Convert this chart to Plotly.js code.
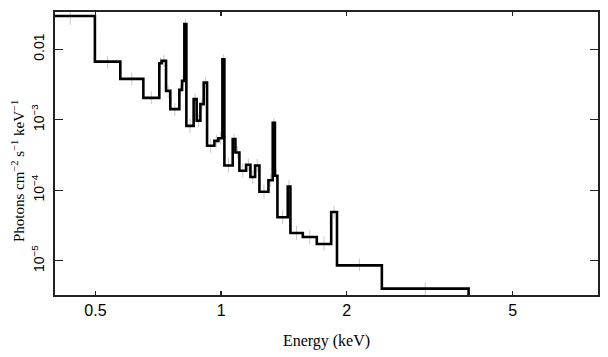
<!DOCTYPE html>
<html>
<head>
<meta charset="utf-8">
<script src="https://cdn.plot.ly/plotly-3.0.1.min.js"></script>
<style>html,body{margin:0;padding:0;background:#fff;}#chart{width:608px;height:357px;}</style>
</head>
<body>
<div id="chart"></div>
<script>
// Bin edges (keV) of the folded spectrum
const binEdges = [0.38, 0.4985, 0.5735, 0.6512, 0.7112, 0.7203, 0.7381, 0.7557, 0.7943, 0.8062,
  0.8166, 0.8257, 0.8595, 0.8739, 0.8921, 0.9085, 0.9256, 0.9637, 0.9852, 1.0072,
  1.0184, 1.0662, 1.0822, 1.1063, 1.1480, 1.1756, 1.2065, 1.2355, 1.2985, 1.3297,
  1.3459, 1.3647, 1.4443, 1.4660, 1.5697, 1.6955, 1.8357, 1.8954, 2.4277, 3.9175];
// Model level in each bin (photons cm^-2 s^-1 keV^-1)
const modelFlux = [0.02962, 0.006675, 0.003795, 0.002042, 0.006333, 0.006829, 0.002566, 0.001413, 0.002652, 0.003556,
  0.02283, 0.000819, 0.001957, 0.000965, 0.001663, 0.003363, 0.000427, 0.000502, 0.000545, 0.007218,
  0.0002245, 0.000531, 0.000343, 0.000189, 0.0002297, 0.0001538, 0.0002245, 0.0000953, 0.0001385, 0.000904,
  0.0001605, 0.00004146, 0.0001132, 0.00002476, 0.00002173, 0.0000173, 0.0000491, 0.0000086, 0.00000402];
// Measured points (grey crosses) and their half error in dex
const dataFlux = [0.0280, 0.00650, 0.00380, 0.00205, 0.00640, 0.00690, 0.00250, 0.00140, 0.00260, 0.00360,
  0.0230, 0.00082, 0.00196, 0.00097, 0.00166, 0.00335, 0.00043, 0.00050, 0.00055, 0.00720,
  0.000225, 0.00053, 0.000345, 0.00019, 0.00023, 0.000155, 0.000225, 0.000096, 0.000138, 0.00090,
  0.00016, 0.0000415, 0.000113, 0.0000248, 0.0000218, 0.0000174, 0.0000490, 0.0000087, 0.0000040];
const dataErrDex = [0.10, 0.09, 0.09, 0.09, 0.08, 0.08, 0.09, 0.09, 0.08, 0.08,
  0.07, 0.10, 0.08, 0.09, 0.08, 0.08, 0.10, 0.09, 0.09, 0.07,
  0.10, 0.08, 0.09, 0.10, 0.09, 0.10, 0.09, 0.10, 0.09, 0.07,
  0.09, 0.10, 0.09, 0.10, 0.10, 0.10, 0.09, 0.09, 0.09];
// Bottom floor used to close the last bin (falls below the plotted range)
const floorFlux = 1e-8;

const xTickVals = [0.5, 1, 2, 5];
const xTickText = ['0.5', '1', '2', '5'];
const xMinorVals = [0.4, 0.6, 0.7, 0.8, 0.9, 3, 4, 6, 7, 8];
const xMajorVals = [1];
const yTickVals = [1e-5, 1e-4, 1e-3, 1e-2];
const yTickText = ['10<sup>\u22125</sup>', '10<sup>\u22124</sup>', '10<sup>\u22123</sup>', '0.01'];
const yMinorVals = [];
[1e-6, 1e-5, 1e-4, 1e-3, 1e-2].forEach(d => { for (let k = 2; k <= 9; k++) yMinorVals.push(k * d); });

const xTitle = 'Energy (keV)';
const yTitle = 'Photons cm<sup>\u22122</sup> s<sup>\u22121</sup> keV<sup>\u22121</sup>';

// step line
const stepX = binEdges.slice();
const stepY = modelFlux.concat([floorFlux]);

const centers = [];
for (let i = 0; i < modelFlux.length; i++) centers.push(Math.sqrt(binEdges[i] * binEdges[i + 1]));
const errPlus = dataFlux.map((v, i) => v * Math.pow(10, dataErrDex[i]) - v);
const errMinus = dataFlux.map((v, i) => v - v / Math.pow(10, dataErrDex[i]));

const traces = [
  {
    x: centers, y: dataFlux, type: 'scatter', mode: 'markers',
    marker: {size: 1, color: 'rgba(0,0,0,0)'},
    error_y: {type: 'data', array: errPlus, arrayminus: errMinus, color: '#c8c8c8', thickness: 1, width: 0},
    hoverinfo: 'skip', showlegend: false
  },
  {
    x: stepX, y: stepY, type: 'scatter', mode: 'lines',
    line: {shape: 'hv', color: '#000', width: 2.6},
    showlegend: false
  }
];

const xr = [Math.log10(0.4), Math.log10(8)];
const yr = [-5.486, -1.472];
const serif = 'Liberation Serif, Times New Roman, serif';
const sans = 'Liberation Sans, Arial, sans-serif';

function tickOnlyAxis(base, vals, len) {
  return Object.assign({
    tickmode: 'array', tickvals: vals, showticklabels: false,
    ticks: 'inside', ticklen: len, tickwidth: 1.3, tickcolor: '#222',
    showline: false, mirror: 'ticks', showgrid: false, zeroline: false
  }, base);
}

const layout = {
  width: 608, height: 357,
  margin: {l: 55, r: 10, t: 12, b: 62},
  paper_bgcolor: '#fff', plot_bgcolor: '#fff',
  showlegend: false,
  xaxis: {
    type: 'log', range: xr, tickmode: 'array',
    tickvals: xTickVals, ticktext: xTickText,
    ticks: 'inside', ticklen: 4, tickwidth: 1.3, tickcolor: '#222',
    showline: true, linecolor: '#222', linewidth: 1.6, mirror: 'ticks',
    showgrid: false, zeroline: false, tickfont: {family: sans, size: 16, color: '#000'}, ticklabelstandoff: 0,
    title: {text: xTitle, font: {family: serif, size: 16, color: '#000'}, standoff: 17}
  },
  xaxis2: tickOnlyAxis({type: 'log', range: xr, overlaying: 'x', side: 'bottom', anchor: 'y'}, xMinorVals, 4),
  xaxis3: tickOnlyAxis({type: 'log', range: xr, overlaying: 'x', side: 'bottom', anchor: 'y'}, xMajorVals, 8),
  yaxis: {
    type: 'log', range: yr, tickmode: 'array',
    tickvals: yTickVals, ticktext: yTickText, tickangle: -90,
    ticks: 'inside', ticklen: 8, tickwidth: 1.3, tickcolor: '#222',
    showline: true, linecolor: '#222', linewidth: 1.6, mirror: 'ticks',
    showgrid: false, zeroline: false, tickfont: {family: sans, size: 14, color: '#000'},
    ticklabelstandoff: 4
  },
  yaxis2: tickOnlyAxis({type: 'log', range: yr, overlaying: 'y', side: 'left', anchor: 'x'}, yMinorVals, 4),
  annotations: [{
    text: yTitle, textangle: -90, showarrow: false,
    xref: 'paper', yref: 'paper', x: 0, y: 0.5, xanchor: 'center', yanchor: 'middle',
    xshift: -37.5, yshift: -18,
    font: {family: serif, size: 15, color: '#000'}
  }]
};

Plotly.newPlot('chart', traces, layout, {displayModeBar: false, staticPlot: true});
</script>
</body>
</html>
